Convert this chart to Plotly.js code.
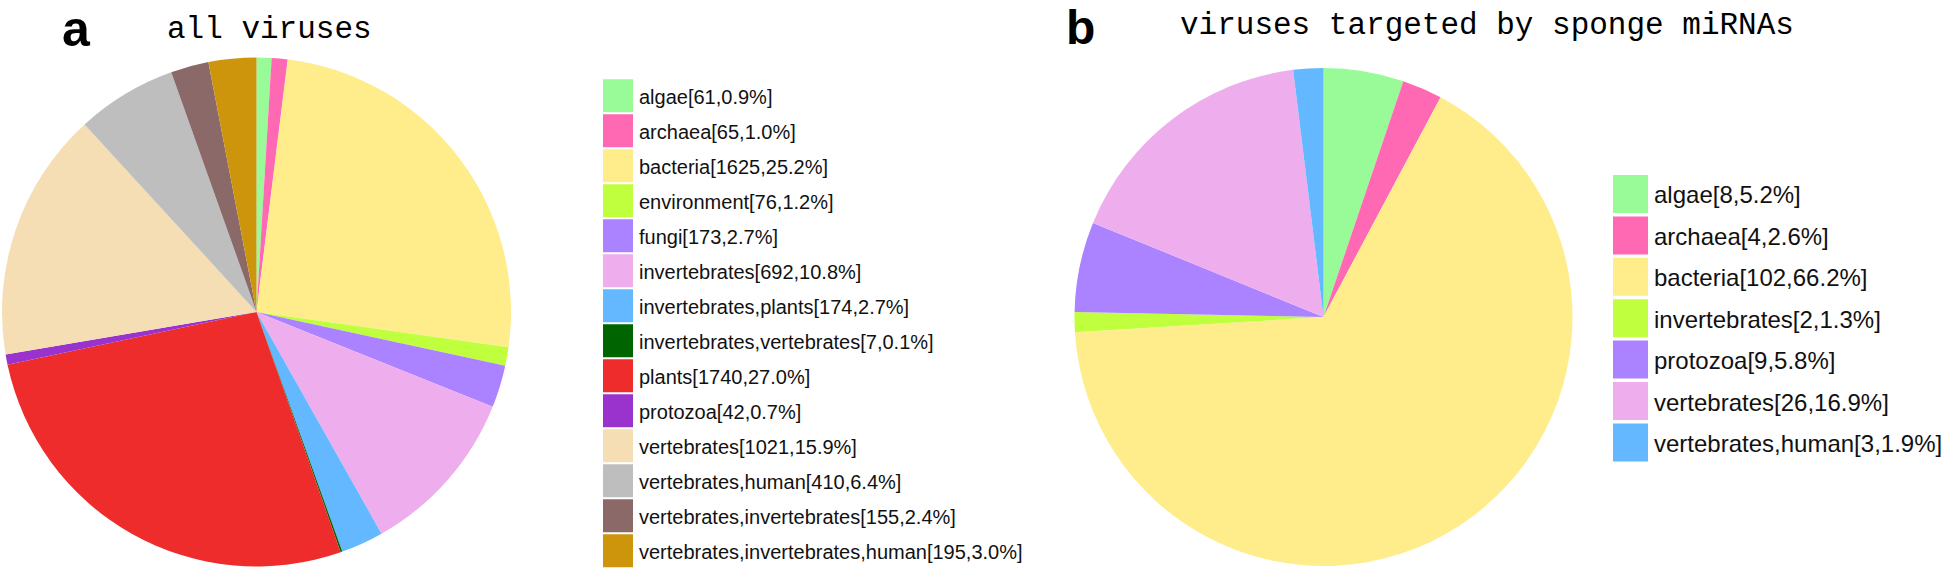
<!DOCTYPE html>
<html>
<head>
<meta charset="utf-8">
<script src="https://cdn.plot.ly/plotly-3.0.1.min.js"></script>
<style>html,body{margin:0;padding:0;background:#fff;}#chart{width:1946px;height:572px;}</style>
</head>
<body>
<div id="chart"></div>
<script>
// ---- data: panel a (all viruses) ----
var catsA = ["algae","archaea","bacteria","environment","fungi","invertebrates","invertebrates,plants","invertebrates,vertebrates","plants","protozoa","vertebrates","vertebrates,human","vertebrates,invertebrates","vertebrates,invertebrates,human"];
var countsA = [61,65,1625,76,173,692,174,7,1740,42,1021,410,155,195];
var pctA = [0.9,1.0,25.2,1.2,2.7,10.8,2.7,0.1,27.0,0.7,15.9,6.4,2.4,3.0];
var colorsA = ["#98FB98","#FF69B4","#FFEC8B","#C0FF3E","#AB82FF","#EEAEEE","#63B8FF","#006400","#EE2C2C","#9A32CD","#F5DEB3","#BEBEBE","#8B6969","#CD950C"];

// ---- data: panel b (viruses targeted by sponge miRNAs) ----
var catsB = ["algae","archaea","bacteria","invertebrates","protozoa","vertebrates","vertebrates,human"];
var countsB = [8,4,102,2,9,26,3];
var pctB = [5.2,2.6,66.2,1.3,5.8,16.9,1.9];
var colorsB = ["#98FB98","#FF69B4","#FFEC8B","#C0FF3E","#AB82FF","#EEAEEE","#63B8FF"];

var titleA = "all viruses";
var titleB = "viruses targeted by sponge miRNAs";

var W = 1946, H = 572;
function px(x){ return x / W; }
function py(y){ return 1 - y / H; }

function pieDomain(cx, cy, r){
  return {x:[px(cx - r), px(cx + r)], y:[py(cy + r), py(cy - r)]};
}

var traces = [
  {type:"pie", labels:catsA, values:countsA, sort:false, direction:"clockwise", rotation:0,
   marker:{colors:colorsA, line:{width:0}}, textinfo:"none", hoverinfo:"label+value+percent",
   showlegend:false, domain:pieDomain(256.5, 312, 254.5)},
  {type:"pie", labels:catsB, values:countsB, sort:false, direction:"clockwise", rotation:0,
   marker:{colors:colorsB, line:{width:0}}, textinfo:"none", hoverinfo:"label+value+percent",
   showlegend:false, domain:pieDomain(1323.5, 317, 249)}
];

var shapes = [];
var annotations = [];

function buildLegend(cats, counts, pcts, colors, x0, sw, top, pitch, sh, tx, fs){
  for (var i = 0; i < cats.length; i++){
    var y0 = top + i * pitch;
    shapes.push({type:"rect", xref:"paper", yref:"paper",
      x0:px(x0), x1:px(x0 + sw), y0:py(y0 + sh), y1:py(y0),
      fillcolor:colors[i], line:{width:0}});
    annotations.push({xref:"paper", yref:"paper", x:px(tx), y:py(y0 + sh/2 + 1),
      xanchor:"left", yanchor:"middle", showarrow:false,
      text: cats[i] + "[" + counts[i] + "," + pcts[i].toFixed(1) + "%]",
      font:{family:"Liberation Sans, Arial, sans-serif", size:fs, color:"#111"}});
  }
}
buildLegend(catsA, countsA, pctA, colorsA, 603, 30, 79.3, 35, 33, 637, 20);
buildLegend(catsB, countsB, pctB, colorsB, 1613, 35, 175, 41.4, 38, 1652, 24);

// panel letters and titles
annotations.push({xref:"paper", yref:"paper", x:px(76.5), y:1, xanchor:"center", yanchor:"top", borderpad:0,
  showarrow:false, text:"<b>a</b>", font:{family:"Liberation Sans, Arial, sans-serif", size:50, color:"#000"}});
annotations.push({xref:"paper", yref:"paper", x:px(1080.5), y:1, xanchor:"center", yanchor:"top", borderpad:0,
  showarrow:false, text:"<b>b</b>", font:{family:"Liberation Sans, Arial, sans-serif", size:48, color:"#000"}});
annotations.push({xref:"paper", yref:"paper", x:px(269.5), y:py(29), xanchor:"center", yanchor:"middle",
  showarrow:false, text:titleA, font:{family:"Liberation Mono, Courier New, monospace", size:31, color:"#000"}});
annotations.push({xref:"paper", yref:"paper", x:px(1486.5), y:py(25), xanchor:"center", yanchor:"middle",
  showarrow:false, text:titleB, font:{family:"Liberation Mono, Courier New, monospace", size:31, color:"#000"}});

var layout = {
  width:W, height:H, margin:{l:0, r:0, t:0, b:0},
  paper_bgcolor:"#fff", plot_bgcolor:"#fff",
  showlegend:false, shapes:shapes, annotations:annotations
};

Plotly.newPlot("chart", traces, layout, {displayModeBar:false, staticPlot:true});
</script>
</body>
</html>
